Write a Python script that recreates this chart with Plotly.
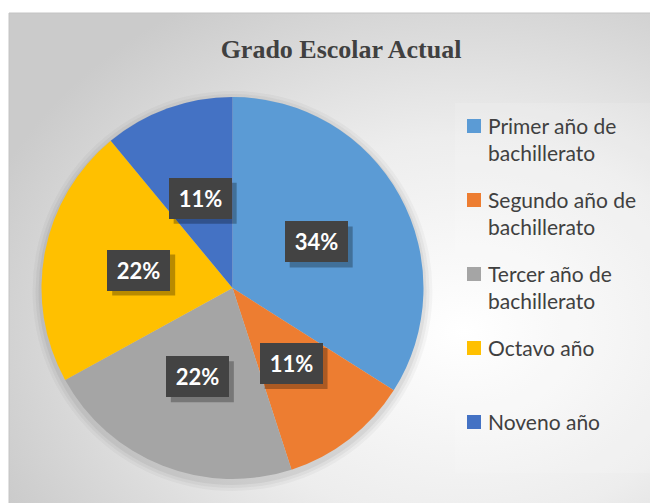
import base64
import math
import plotly.graph_objects as go

categorias = ["Primer año de<br>bachillerato", "Segundo año de<br>bachillerato",
              "Tercer año de<br>bachillerato", "Octavo año", "Noveno año"]
porcentajes = [34, 11, 22, 22, 11]
colores = ["#5B9BD5", "#ED7D31", "#A5A5A5", "#FFC000", "#4472C4"]

W, H = 658, 503
OFF = 8  # page body margin, positions below are measured on the page


def fx(px):
    return (px - OFF) / W


def fy(py):
    return 1 - (py - OFF) / H


# pie placement (page pixels)
cx, cy, r = 232.5, 288, 191

# radial gradient background as inline svg
svg = """<svg xmlns='http://www.w3.org/2000/svg' width='650' height='490'>
<defs><radialGradient id='g' cx='0.70' cy='0.64' r='0.78'>
<stop offset='0' stop-color='#ffffff'/><stop offset='0.5' stop-color='#ededed'/>
<stop offset='1' stop-color='#cbcbcb'/></radialGradient></defs>
<rect width='650' height='490' fill='url(#g)'/></svg>"""
bg = "data:image/svg+xml;base64," + base64.b64encode(svg.encode()).decode()

fig = go.Figure(go.Pie(
    labels=categorias,
    values=porcentajes,
    sort=False,
    direction="clockwise",
    rotation=0,
    textinfo="none",
    hoverinfo="label+percent",
    showlegend=False,
    marker=dict(colors=colores, line=dict(width=0)),
    domain=dict(x=[fx(cx - r), fx(cx + r)], y=[fy(cy + r), fy(cy - r)]),
))

shapes = [
    dict(type="rect", xref="paper", yref="paper", x0=fx(9), x1=fx(662),
         y0=fy(510), y1=fy(13), line=dict(color="#c4c4c4", width=1), layer="below"),
    # faint legend panel
    dict(type="rect", xref="paper", yref="paper", x0=fx(455), x1=fx(655),
         y0=fy(473), y1=fy(103), line=dict(width=0),
         fillcolor="rgba(255,255,255,0.12)", layer="below"),
]
# soft shadow round the pie
for k, a in [(9, 0.03), (6, 0.04), (3, 0.05)]:
    shapes.append(dict(type="circle", xref="paper", yref="paper",
                       x0=fx(cx - r - k), x1=fx(cx + r + k),
                       y0=fy(cy + r + k + 3), y1=fy(cy - r - k + 3),
                       line=dict(width=0), fillcolor=f"rgba(0,0,0,{a})", layer="below"))

# percentage labels in dark boxes at half radius of each slice's mid angle
total = sum(porcentajes)
acum = 0
for v in porcentajes:
    mid = (acum + v / 2) / total * 2 * math.pi
    acum += v
    px = cx + 0.5 * r * math.sin(mid)
    py = cy - 0.5 * r * math.cos(mid)
    # drop shadow of the box
    shapes.append(dict(type="rect", xref="paper", yref="paper",
                       x0=fx(px - 31.5 + 5), x1=fx(px + 31.5 + 5),
                       y0=fy(py + 20.5 + 5), y1=fy(py - 20.5 + 5),
                       line=dict(width=0), fillcolor="rgba(0,0,0,0.28)"))
    fig.add_annotation(
        x=fx(px), y=fy(py), xref="paper", yref="paper",
        xanchor="center", yanchor="middle",
        text=f"<b>{v}%</b>", showarrow=False,
        font=dict(family="Lato", size=22, color="white"),
        bgcolor="#434343", bordercolor="#434343", borderwidth=1,
        width=57, height=35, borderpad=2,
    )

# legend drawn by hand: square + wrapped label
for i, (lab, col) in enumerate(zip(categorias, colores)):
    yc = 126 + 74 * i
    shapes.append(dict(type="rect", xref="paper", yref="paper",
                       x0=fx(467), x1=fx(481), y0=fy(yc + 7), y1=fy(yc - 7),
                       line=dict(width=0), fillcolor=col))
    fig.add_annotation(x=fx(486), y=fy(yc - 15), xref="paper", yref="paper",
                       xanchor="left", yanchor="top", align="left",
                       text=lab, showarrow=False,
                       font=dict(family="Lato", size=21, color="#404040"))

fig.update_layout(
    width=W, height=H,
    margin=dict(l=0, r=0, t=0, b=0),
    paper_bgcolor="white",
    title=dict(text="<b>Grado Escolar Actual</b>", x=fx(341), xanchor="center",
               y=fy(49), yanchor="middle",
               font=dict(family="Liberation Serif", size=26, color="#404040")),
    images=[dict(source=bg, xref="paper", yref="paper", x=fx(9), y=fy(13),
                 sizex=650 / W, sizey=497 / H, sizing="stretch", layer="below",
                 xanchor="left", yanchor="top")],
    shapes=shapes,
)

fig.write_html("out.html")
